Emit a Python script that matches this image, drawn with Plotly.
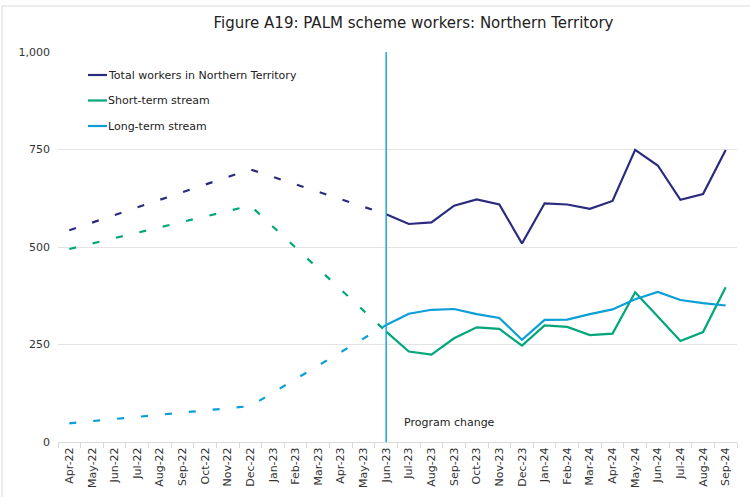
import plotly.graph_objects as go

months = ["Apr-22", "May-22", "Jun-22", "Jul-22", "Aug-22", "Sep-22", "Oct-22", "Nov-22",
          "Dec-22", "Jan-23", "Feb-23", "Mar-23", "Apr-23", "May-23", "Jun-23", "Jul-23",
          "Aug-23", "Sep-23", "Oct-23", "Nov-23", "Dec-23", "Jan-24", "Feb-24", "Mar-24",
          "Apr-24", "May-24", "Jun-24", "Jul-24", "Aug-24", "Sep-24"]

# Early period: only anchor values known (dashed, gaps connected)
total_early = [543, None, None, None, None, None, None, None, 699,
               None, None, None, None, None, 584] + [None] * 15
short_early = [495, None, None, None, None, None, None, None, 606,
               None, None, None, None, None, 283] + [None] * 15
long_early = [48, None, None, None, None, None, None, None, 92,
              None, None, None, None, None, 300] + [None] * 15

# Monthly data from Jun-23 (solid)
total_late = [None] * 14 + [584, 559, 563, 606, 622, 609, 509, 612, 609, 598, 618, 749, 709, 621, 636, 749]
short_late = [None] * 14 + [283, 232, 224, 266, 294, 290, 247, 299, 295, 274, 278, 384, 322, 259, 282, 397]
long_late = [None] * 14 + [300, 329, 339, 341, 328, 318, 262, 313, 314, 328, 340, 366, 385, 364, 356, 350]

series_names = ["Total workers in Northern Territory", "Short-term stream", "Long-term stream"]
colors = ["#2A2A7E", "#00A77A", "#0A9FD6"]
y_ticks = [0, 250, 500, 750, 1000]
y_tick_labels = ["0", "250", "500", "750", "1,000"]

FONT = "DejaVu Sans"

fig = go.Figure()
for early, late, name, col in zip([total_early, short_early, long_early],
                                  [total_late, short_late, long_late],
                                  series_names, colors):
    fig.add_trace(go.Scatter(x=months, y=early, mode="lines", connectgaps=True,
                             line=dict(color=col, width=2.2, dash="7px,17px"),
                             showlegend=False, hoverinfo="skip"))
    fig.add_trace(go.Scatter(x=months, y=late, mode="lines", name=name,
                             line=dict(color=col, width=2.2), showlegend=False))

# Vertical program change line
fig.add_shape(type="line", xref="x", yref="paper", x0="Jun-23", x1="Jun-23", y0=0, y1=1.0,
              line=dict(color="#1AA6DC", width=1.5))
fig.add_annotation(xref="x", yref="paper", x="Jun-23", y=0.05, xshift=16, text="Program change",
                   showarrow=False, xanchor="left", yanchor="middle",
                   font=dict(family=FONT, size=11, color="#222222"))

# Manual legend
PW = 679.0
PH = 390.0
def px_x(px):
    return (px - 58) / PW
def px_y(py):
    return (442 - py) / PH

for i, (name, col) in enumerate(zip(series_names, colors)):
    yy = 75 + i * 25.5
    fig.add_shape(type="line", xref="paper", yref="paper",
                  x0=px_x(88), x1=px_x(107), y0=px_y(yy), y1=px_y(yy),
                  line=dict(color=col, width=2.2))
    fig.add_annotation(xref="paper", yref="paper", x=px_x(106), y=px_y(yy), text=name,
                       showarrow=False, xanchor="left", yanchor="middle",
                       font=dict(family=FONT, size=11, color="#222222"))

# Outer frame
fig.add_shape(type="rect", xref="paper", yref="paper",
              x0=px_x(2), x1=px_x(760), y0=px_y(510), y1=px_y(6),
              line=dict(color="#D9D9D9", width=1), fillcolor="rgba(0,0,0,0)", layer="below")

fig.update_layout(
    width=750, height=497,
    margin=dict(l=58, r=13, t=52, b=55, autoexpand=False),
    paper_bgcolor="white", plot_bgcolor="white",
    title=dict(text="Figure A19: PALM scheme workers: Northern Territory",
               x=413.5 / 750, xanchor="center", xref="container", y=1 - 23 / 497, yanchor="middle",
               font=dict(family=FONT, size=15, color="#222222")),
    font=dict(family=FONT, size=11, color="#333333"),
    showlegend=False,
)
fig.update_xaxes(type="category", categoryorder="array", categoryarray=months, automargin=False,
                 tickangle=-90, tickfont=dict(family=FONT, size=11, color="#333333"),
                 showgrid=False, showline=True, linecolor="#D9D9D9", linewidth=1,
                 ticks="outside", tickson="boundaries", ticklen=5, tickcolor="#D9D9D9",
                 range=[-0.5, len(months) - 0.5])
fig.update_yaxes(range=[0, 1000], tickvals=y_ticks, ticktext=y_tick_labels, automargin=False,
                 showgrid=True, gridcolor="#E3E3E3", gridwidth=1, zeroline=False,
                 showline=False, ticks="", ticklabelstandoff=7,
                 tickfont=dict(family=FONT, size=11, color="#333333"))

fig.write_html("out.html", config={"displayModeBar": False},
               post_script="document.body.style.margin='0';document.body.style.overflow='hidden';")
